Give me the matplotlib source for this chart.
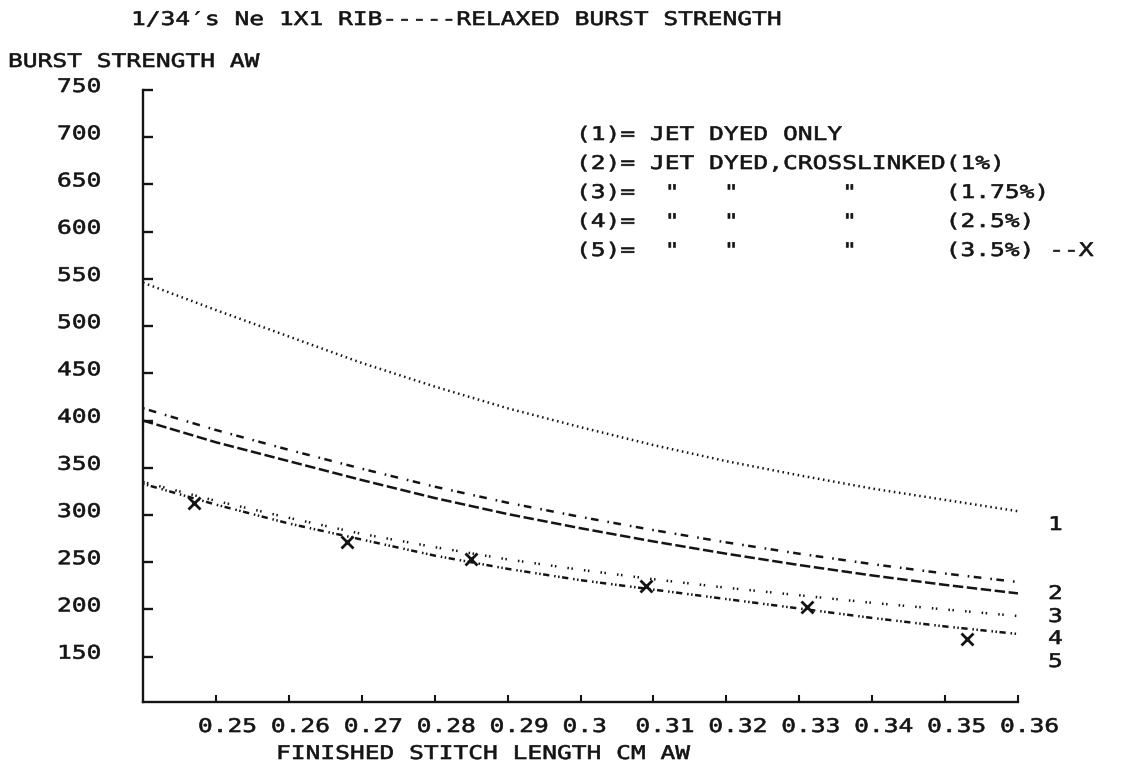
import matplotlib
matplotlib.use("Agg")
import matplotlib.pyplot as plt
import matplotlib.transforms as mtransforms
from matplotlib.patheffects import AbstractPathEffect

plt.rcParams["lines.scale_dashes"] = False

# ---- data -------------------------------------------------------------
stitch_length = [0.24, 0.25, 0.26, 0.27, 0.28, 0.29, 0.30,
                 0.31, 0.32, 0.33, 0.34, 0.35, 0.36]
burst_jet_dyed = [546, 517, 489, 461, 436, 413, 393, 374, 357, 342, 328, 316, 304]
burst_cl_1 = [413, 390, 369, 349, 330, 313, 298, 284, 271, 259, 248, 238, 229]
burst_cl_175 = [400, 377, 357, 337, 318, 301, 286, 272, 259, 247, 236, 226, 217]
burst_cl_25 = [335, 315, 297, 280, 266, 253, 242, 232, 223, 215, 207, 200, 193]
burst_cl_35 = [333, 311, 291, 274, 257, 243, 231, 221, 211, 201, 191, 182, 174]

measured_length_35 = [0.247, 0.268, 0.285, 0.309, 0.331, 0.353]
measured_burst_35 = [313, 271, 253, 225, 203, 169]

x_ticks = [0.25, 0.26, 0.27, 0.28, 0.29, 0.30, 0.31, 0.32, 0.33, 0.34, 0.35, 0.36]
x_tick_labels = ["0.25", "0.26", "0.27", "0.28", "0.29", "0.3",
                 "0.31", "0.32", "0.33", "0.34", "0.35", "0.36"]
y_ticks = [150, 200, 250, 300, 350, 400, 450, 500, 550, 600, 650, 700, 750]
y_tick_labels = [str(v) for v in y_ticks]

legend_rows = [
    "(1)= JET DYED ONLY",
    "(2)= JET DYED,CROSSLINKED(1%)",
    '(3)=  "   "       "      (1.75%)',
    '(4)=  "   "       "      (2.5%)',
    '(5)=  "   "       "      (3.5%) --X',
]
curve_numbers = ["1", "2", "3", "4", "5"]

title = "1/34\u2032s Ne 1X1 RIB-----RELAXED BURST STRENGTH"
y_title = "BURST STRENGTH AW"
x_title = "FINISHED STITCH LENGTH CM AW"

# ---- styling ----------------------------------------------------------
W, H = 1123, 768
INK = "#141414"
FONT = "DejaVu Sans Mono"
FSIZE = 13.5


class PlotterGlyphs(AbstractPathEffect):
    """Widen glyphs horizontally (anchored at the left of each line) and
    give them a slightly heavier, pen-plotter stroke."""

    def __init__(self, sx, stroke):
        super().__init__()
        self._sx = sx
        self._stroke = stroke

    def draw_path(self, renderer, gc, tpath, affine, rgbFace=None):
        tr = mtransforms.Affine2D().scale(self._sx, 1.0) + affine
        gc0 = renderer.new_gc()
        gc0.copy_properties(gc)
        gc0.set_linewidth(self._stroke)
        gc0.set_foreground(rgbFace)
        gc0.set_joinstyle("round")
        renderer.draw_path(gc0, tpath, tr, rgbFace)
        gc0.restore()


GLYPHS = [PlotterGlyphs(1.31, 0.45)]

fig = plt.figure(figsize=(W / 100, H / 100), dpi=100)
fig.patch.set_facecolor("white")

ax_left, ax_right, ax_top, ax_bottom = 143, 1018, 90, 702
ax = fig.add_axes([ax_left / W, 1 - ax_bottom / H,
                   (ax_right - ax_left) / W, (ax_bottom - ax_top) / H])
ax.set_xlim(0.24, 0.36)
ax.set_ylim(102, 750)
for side in ("top", "right"):
    ax.spines[side].set_visible(False)
for side in ("left", "bottom"):
    ax.spines[side].set_linewidth(1.7)
    ax.spines[side].set_color(INK)
ax.set_xticks(x_ticks)
ax.set_yticks(y_ticks)
ax.tick_params(axis="y", direction="in", length=7, width=1.7, color=INK,
               labelleft=False)
ax.tick_params(axis="x", direction="in", length=5, width=1.5, color=INK,
               labelbottom=False)

lw = 1.8
ax.plot(stitch_length, burst_jet_dyed, color=INK, lw=lw,
        linestyle=(0, (1.1, 2.6)))
ax.plot(stitch_length, burst_cl_1, color=INK, lw=lw,
        linestyle=(0, (1.2, 3.2, 5.5, 6.5)))
ax.plot(stitch_length, burst_cl_175, color=INK, lw=lw,
        linestyle=(0, (7.5, 2.6)))
ax.plot(stitch_length, burst_cl_25, color=INK, lw=lw,
        linestyle=(0, (1.1, 1.8, 1.1, 8.0)))
ax.plot(stitch_length, burst_cl_35, color=INK, lw=lw,
        linestyle=(0, (1.1, 1.8, 1.1, 1.8, 4.5, 3.5)))
ax.plot(measured_length_35, measured_burst_35, linestyle="none", marker="x",
        markersize=9, markeredgewidth=2.0, color=INK, clip_on=False)

text_kw = dict(ha="left", va="baseline", fontsize=FSIZE, family=FONT,
               color=INK, path_effects=GLYPHS)

# tick labels
ytrans = mtransforms.offset_copy(
    mtransforms.blended_transform_factory(ax.transAxes, ax.transData),
    fig=fig, x=-(ax_left - 57), y=-2, units="dots")
for v, s in zip(y_ticks, y_tick_labels):
    ax.text(0, v, s, transform=ytrans, **text_kw)

xtrans = mtransforms.offset_copy(
    mtransforms.blended_transform_factory(ax.transData, ax.transAxes),
    fig=fig, x=-18, y=-30, units="dots")
for v, s in zip(x_ticks, x_tick_labels):
    ax.text(v, 0, s, transform=xtrans, **text_kw)


def px_text(x, y, s):
    fig.text(x / W, 1 - y / H, s, **text_kw)


px_text(131, 25, title)
px_text(8, 67, y_title)
px_text(276, 759, x_title)

for i, row in enumerate(legend_rows):
    px_text(576, 140 + 29 * i, row)

for s, yb in zip(curve_numbers, [530, 599, 622, 644, 667]):
    px_text(1048, yb, s)

fig.savefig("out.png", dpi=100, facecolor="white")
